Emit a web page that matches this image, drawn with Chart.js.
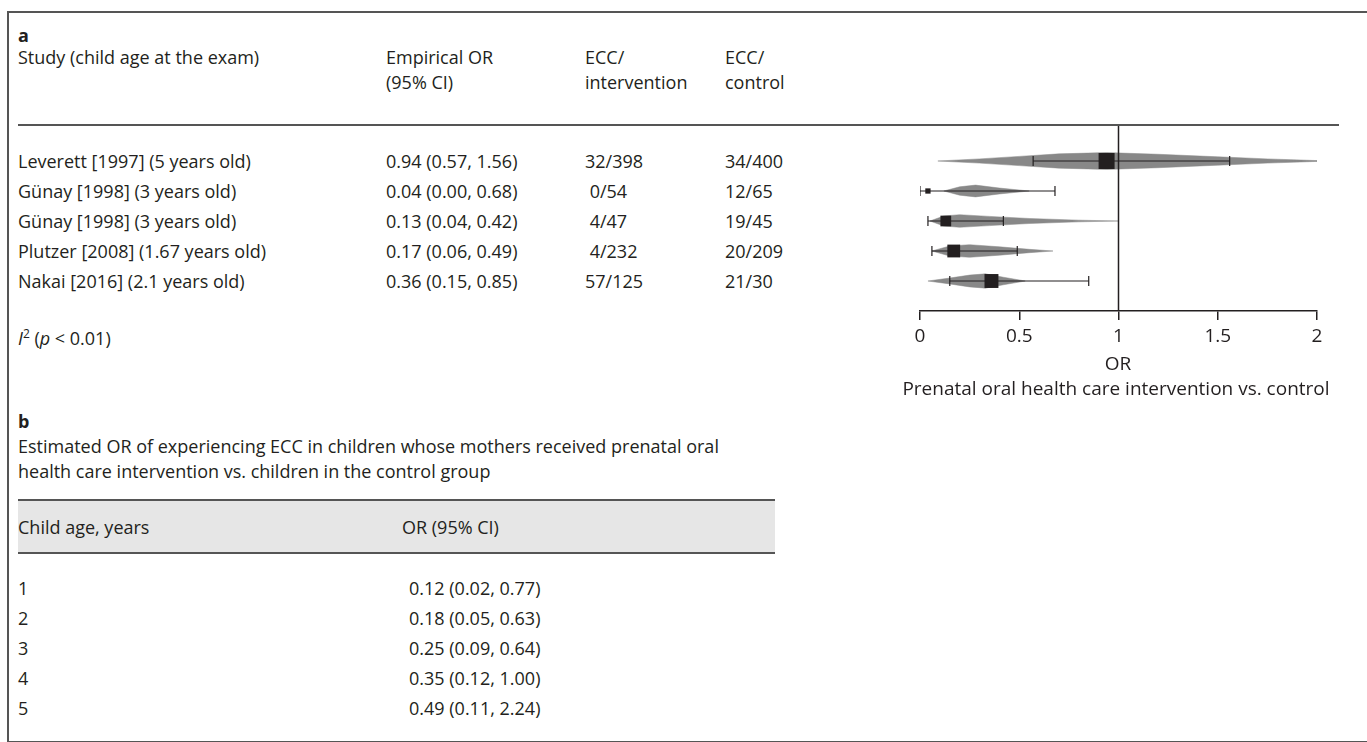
<!DOCTYPE html>
<html>
<head>
<meta charset="utf-8">
<script src="https://cdn.jsdelivr.net/npm/chart.js@4.4.1/dist/chart.umd.min.js"></script>
<style>
    html, body { margin: 0; padding: 0; background: #fff; }
    body {
        width: 1367px; height: 742px; position: relative; overflow: hidden;
        font-family: "Open Sans", "Noto Sans", sans-serif; font-size: 18px; color: #231f20;
    }
    .t { position: absolute; white-space: pre; line-height: 20px; }
    .rule { position: absolute; height: 0; border-top: 2px solid #555; }
    #frame { position: absolute; left: 7px; top: 11px; width: 1420px; height: 728px; border: 2px solid #555; border-right: none; }
    #band { position: absolute; background: #e6e6e6; }
    #forest { position: absolute; left: 870px; top: 100px; }
    .big { font-size: 19px; line-height: 19px; }
</style>
</head>
<body>
<div id="frame"></div>
<div id="band"></div>
<canvas id="forest" width="497" height="320"></canvas>

<script>
// Panel a - studies
const studies = [
    'Leverett [1997] (5 years old)',
    'Günay [1998] (3 years old)',
    'Günay [1998] (3 years old)',
    'Plutzer [2008] (1.67 years old)',
    'Nakai [2016] (2.1 years old)'
];
const empOr = [0.94, 0.04, 0.13, 0.17, 0.36];
const empLo = [0.57, 0.00, 0.04, 0.06, 0.15];
const empHi = [1.56, 0.68, 0.42, 0.49, 0.85];
const eccIntervention = ['32/398', ' 0/54', ' 4/47', ' 4/232', '57/125'];
const eccControl = ['34/400', '12/65', '19/45', '20/209', '21/30'];
const studyWeights = [1.0, 0.33, 0.67, 0.8, 0.87];

// grey density shapes: [OR, relative half height]
const shapeLeverett = [[0.09, 0], [0.3, 0.25], [0.5, 0.55], [0.7, 0.85], [0.94, 1.0], [1.2, 0.8], [1.5, 0.5], [1.75, 0.25], [2.0, 0.05]];
const shapeGunay1 = [[0.12, 0], [0.2, 0.5], [0.28, 0.7], [0.4, 0.35], [0.55, 0]];
const shapeGunay2 = [[0.05, 0], [0.12, 0.6], [0.2, 0.75], [0.35, 0.55], [0.55, 0.3], [0.8, 0.1], [1.0, 0]];
const shapePlutzer = [[0.06, 0], [0.15, 0.6], [0.25, 0.75], [0.4, 0.5], [0.55, 0.2], [0.67, 0]];
const shapeNakai = [[0.04, 0], [0.15, 0.35], [0.25, 0.7], [0.33, 0.85], [0.42, 0.45], [0.53, 0]];
const shapes = [shapeLeverett, shapeGunay1, shapeGunay2, shapePlutzer, shapeNakai];

const xTicks = [0, 0.5, 1, 1.5, 2];

// Panel b - estimated OR by child age
const childAge = [1, 2, 3, 4, 5];
const estOr = [0.12, 0.18, 0.25, 0.35, 0.49];
const estLo = [0.02, 0.05, 0.09, 0.12, 0.11];
const estHi = [0.77, 0.63, 0.64, 1.00, 2.24];

// layout
const rowTop = 161, rowGap = 30;
const rowsB = 588;
const yMin = -1.2, yMax = 5.0;
const shapeH = 0.28;
const ink = '#231f20';

function fmt(v, lo, hi) {
    return v.toFixed(2) + ' (' + lo.toFixed(2) + ', ' + hi.toFixed(2) + ')';
}

function text(x, y, str, cls) {
    const d = document.createElement('div');
    d.className = 't' + (cls ? ' ' + cls : '');
    d.style.left = x + 'px';
    d.style.top = (y - 10) + 'px';
    d.innerHTML = str;
    document.body.appendChild(d);
    return d;
}

function rule(x1, x2, y) {
    const d = document.createElement('div');
    d.className = 'rule';
    d.style.left = x1 + 'px';
    d.style.width = (x2 - x1) + 'px';
    d.style.top = (y - 1) + 'px';
    document.body.appendChild(d);
}

// header a
text(18, 35, 'a').style.fontWeight = 'bold';
text(18, 57, 'Study (child age at the exam)');
text(386, 57, 'Empirical OR');
text(386, 82, '(95% CI)');
text(585, 57, 'ECC/');
text(585, 82, 'intervention');
text(725, 57, 'ECC/');
text(725, 82, 'control');
rule(18, 1339, 125);

studies.forEach(function (s, i) {
    const y = rowTop + i * rowGap;
    text(18, y, s);
    text(386, y, fmt(empOr[i], empLo[i], empHi[i]));
    text(585, y, eccIntervention[i]);
    text(725, y, eccControl[i]);
});
text(18, 338, '<i>I</i><sup style="font-size:12px;vertical-align:7px;line-height:0">2</sup> (<i>p</i> &lt; 0.01)');

// axis titles
text(1118, 364, 'OR', 'big').style.transform = 'translateX(-50%)';
text(1116, 389, 'Prenatal oral health care intervention vs. control', 'big').style.transform = 'translateX(-50%)';

// panel b
text(18, 421, 'b').style.fontWeight = 'bold';
text(18, 446, 'Estimated OR of experiencing ECC in children whose mothers received prenatal oral');
text(18, 471, 'health care intervention vs. children in the control group');
const band = document.getElementById('band');
band.style.left = '18px';
band.style.width = '757px';
band.style.top = '500px';
band.style.height = '53px';
rule(18, 775, 500);
rule(18, 775, 553);
text(18, 527, 'Child age, years');
text(402, 527, 'OR (95% CI)');
childAge.forEach(function (a, i) {
    const y = rowsB + i * rowGap;
    text(18, y, String(a));
    text(409, y, fmt(estOr[i], estLo[i], estHi[i]));
});

// Forest plot datasets
const datasets = [];

// reference line at OR = 1
datasets.push({
    data: [{ x: 1, y: yMin }, { x: 1, y: yMax }],
    borderColor: ink,
    borderWidth: 1.5,
    pointRadius: 0,
    order: 2
});

// squares
datasets.push({
    data: empOr.map(function (v, i) { return { x: v, y: i }; }),
    showLine: false,
    pointStyle: 'rect',
    pointRadius: studyWeights.map(function (w) { return 16 * w / Math.SQRT2; }),
    backgroundColor: ink,
    borderWidth: 0,
    order: 0
});

// CI caps
const caps = [];
empOr.forEach(function (v, i) {
    caps.push({ x: empLo[i], y: i });
    caps.push({ x: empHi[i], y: i });
});
datasets.push({
    data: caps,
    showLine: false,
    pointStyle: 'line',
    rotation: 90,
    pointRadius: 5,
    borderColor: ink,
    borderWidth: 1.2,
    order: 1
});

// CI lines
empOr.forEach(function (v, i) {
    datasets.push({
        data: [{ x: empLo[i], y: i }, { x: empHi[i], y: i }],
        borderColor: ink,
        borderWidth: 1.2,
        pointRadius: 0,
        order: 1
    });
});

// grey shapes
shapes.forEach(function (shape, i) {
    const upper = shape.map(function (p) { return { x: p[0], y: i - p[1] * shapeH }; });
    const lower = shape.slice().reverse().map(function (p) { return { x: p[0], y: i + p[1] * shapeH }; });
    datasets.push({
        data: upper.concat(lower),
        fill: 'shape',
        backgroundColor: '#888888',
        borderColor: '#888888',
        borderWidth: 0.5,
        pointRadius: 0,
        order: 3
    });
});

new Chart(document.getElementById('forest'), {
    type: 'line',
    data: { datasets: datasets },
    options: {
        responsive: false,
        animation: false,
        layout: { padding: { left: 50, right: 50, top: 25, bottom: 0 } },
        plugins: {
            legend: { display: false },
            tooltip: { enabled: false }
        },
        scales: {
            x: {
                type: 'linear',
                min: 0,
                max: 2,
                afterBuildTicks: function (scale) {
                    scale.ticks = xTicks.map(function (v) { return { value: v }; });
                },
                afterFit: function (scale) { scale.height = 109; },
                ticks: {
                    color: ink,
                    padding: 5,
                    font: { family: '"Open Sans"', size: 19 },
                    callback: function (v) { return String(v); }
                },
                grid: {
                    drawOnChartArea: false,
                    drawTicks: true,
                    tickLength: 9,
                    color: ink,
                    lineWidth: 1.5
                },
                border: { display: true, color: ink, width: 1.5 }
            },
            y: {
                type: 'linear',
                display: false,
                min: yMin,
                max: yMax,
                reverse: true
            }
        }
    }
});
</script>
</body>
</html>
